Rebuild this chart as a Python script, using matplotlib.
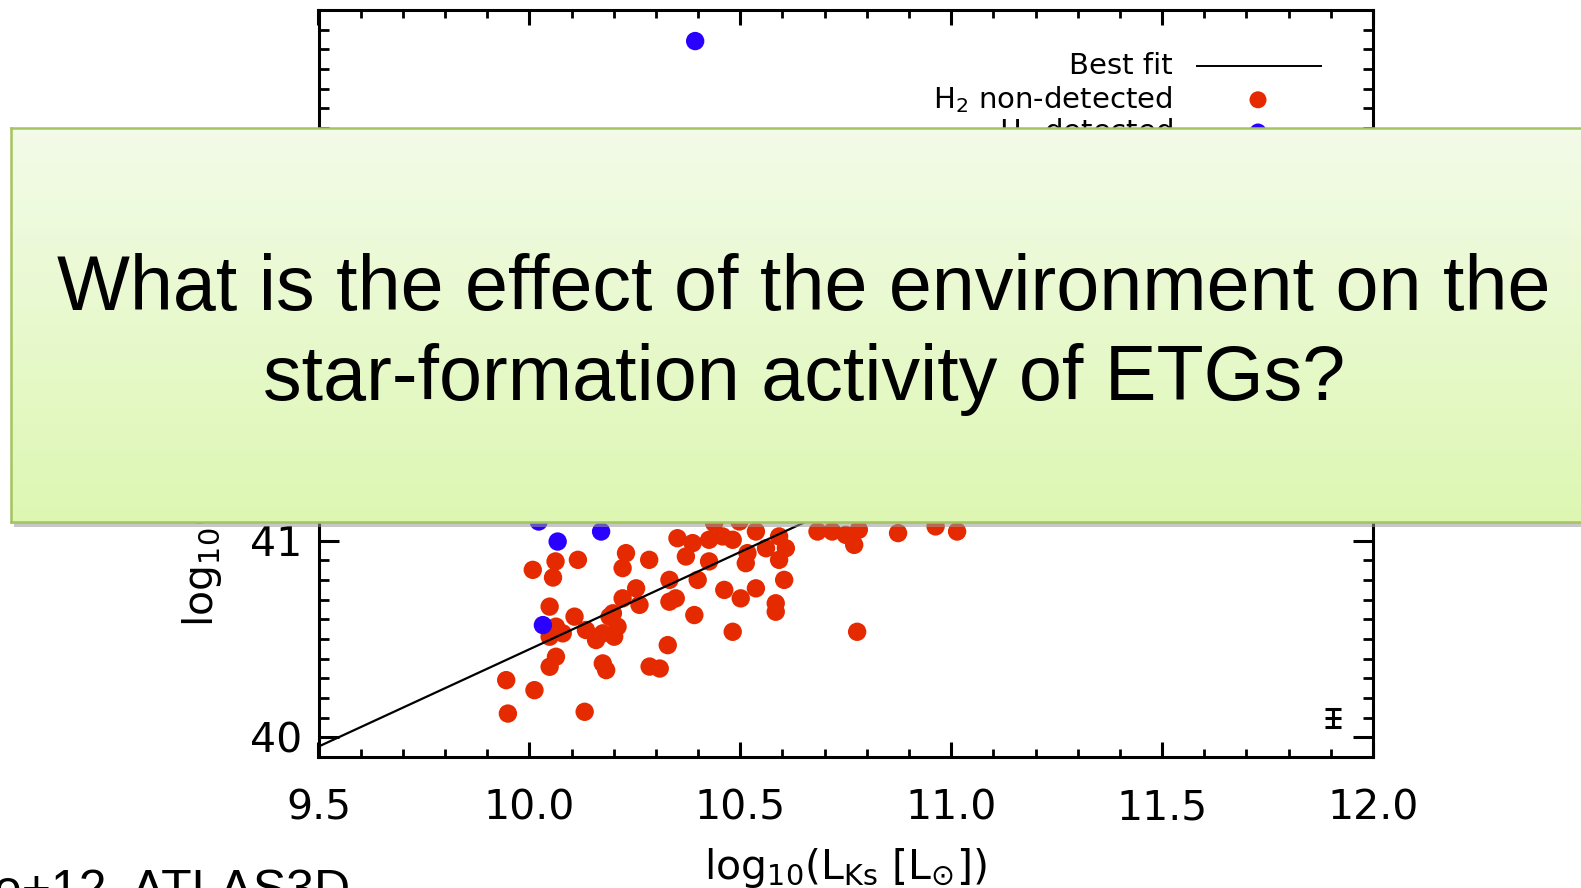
import numpy as np
import matplotlib
matplotlib.use("Agg")
import matplotlib.pyplot as plt
from matplotlib.patches import Rectangle
from matplotlib.ticker import MultipleLocator

# ---------------- data ----------------
red_x = [9.949, 9.945, 10.012, 10.131, 10.008, 10.062, 10.056, 10.115, 10.229, 10.221,
         10.284, 10.048, 10.107, 10.221, 10.253, 10.261, 10.190, 10.209, 10.201, 10.063,
         10.079, 10.048, 10.063, 10.048, 10.134, 10.158, 10.174, 10.174, 10.182, 10.198,
         10.332, 10.399, 10.462, 10.501, 10.537, 10.604, 10.584, 10.584, 10.332, 10.347,
         10.391, 10.482, 10.777, 10.328, 10.285, 10.309, 10.351, 10.387, 10.371, 10.426,
         10.458, 10.482, 10.426, 10.513, 10.537, 10.592, 10.608, 10.561, 10.592, 10.517,
         10.438, 10.498, 10.683, 10.718, 10.750, 10.781, 10.770, 10.874, 10.963, 11.014]
red_y = [40.121, 40.291, 40.240, 40.130, 40.852, 40.895, 40.813, 40.903, 40.937, 40.861,
         40.903, 40.665, 40.614, 40.707, 40.758, 40.674, 40.614, 40.563, 40.512, 40.563,
         40.529, 40.512, 40.410, 40.359, 40.546, 40.495, 40.529, 40.376, 40.342, 40.631,
         40.801, 40.801, 40.750, 40.707, 40.758, 40.801, 40.682, 40.639, 40.690, 40.707,
         40.622, 40.537, 40.537, 40.469, 40.360, 40.350, 41.013, 40.988, 40.920, 41.005,
         41.022, 41.005, 40.895, 40.886, 41.047, 41.022, 40.962, 40.962, 40.903, 40.937,
         41.090, 41.098, 41.047, 41.047, 41.030, 41.056, 40.979, 41.039, 41.073, 41.047]
blue_x = [10.393, 10.022, 10.067, 10.170, 10.032]
blue_y = [43.542, 41.098, 40.996, 41.047, 40.571]

fit_intercept_at_95 = 39.953
fit_slope = 0.99
fit_x = [9.5, 12.0]

err_x = [11.905]
err_y = [40.097]
err_size = [0.046]

x_ticks = [9.5, 10.0, 10.5, 11.0, 11.5, 12.0]
x_ticklabels = ["9.5", "10.0", "10.5", "11.0", "11.5", "12.0"]
y_ticks = [40, 41, 42, 43]
y_ticklabels = ["40", "41", "42", "43"]

legend_labels = ["Best fit", "H$_2$ non-detected", "H$_2$ detected"]
question_lines = ["What is the effect of the environment on the",
                  "star-formation activity of ETGs?"]
credit = "e+12, ATLAS3D"

RED = "#e62a00"
BLUE = "#2a00ff"

# ---------------- figure ----------------
W, H = 1581, 888
fig = plt.figure(figsize=(W / 100, H / 100), dpi=100)
fig.patch.set_facecolor("white")

def fx(px):
    return px / W

def fy(py):
    return 1 - py / H

ax_l, ax_r, ax_t, ax_b = 318.5, 1373, 10, 757
ax = fig.add_axes([fx(ax_l), fy(ax_b), fx(ax_r - ax_l), (ax_b - ax_t) / H])
ax.set_zorder(1)

ax.scatter(red_x, red_y, s=175, color=RED, edgecolors="none", zorder=3)
ax.scatter(blue_x, blue_y, s=175, color=BLUE, edgecolors="none", zorder=3)
fx_arr = np.array(fit_x)
ax.plot(fx_arr, fit_intercept_at_95 + fit_slope * (fx_arr - 9.5), color="black", lw=1.6, zorder=4)
ax.errorbar(err_x, err_y, yerr=err_size, fmt="_", color="black", ms=11, mew=2.2,
            capsize=5.5, capthick=2.2, elinewidth=2.2, zorder=4)

ax.set_xlim(9.5, 12.0)
ax.set_ylim(39.9, 43.7)
ax.set_xticks(x_ticks)
ax.set_xticklabels(x_ticklabels)
ax.set_yticks(y_ticks)
ax.set_yticklabels(y_ticklabels)
ax.xaxis.set_minor_locator(MultipleLocator(0.1))
ax.yaxis.set_minor_locator(MultipleLocator(0.1))
for s in ax.spines.values():
    s.set_linewidth(2.2)
ax.tick_params(axis="x", which="major", direction="in", length=11, width=2.2,
               top=True, bottom=True, labelsize=29.5, pad=23)
ax.tick_params(axis="x", which="minor", direction="in", length=5.5, width=2.0,
               top=True, bottom=True)
ax.tick_params(axis="y", which="major", direction="in", length=14.5, width=2.2,
               left=True, right=True, labelsize=29.5, pad=12)
ax.tick_params(axis="y", which="minor", direction="in", length=7, width=2.0,
               left=True, right=True)

ax.set_xlabel(r"log$_{10}$(L$_{\rm Ks}$ [L$_{\odot}$])", fontsize=29.5, labelpad=12)
ax.set_ylabel(r"log$_{10}$(L$_{22\,\mu m}$ [erg s$^{-1}$])", fontsize=29.5)
ax.yaxis.set_label_coords(-0.086, 0.465)

# legend drawn manually (right-aligned texts)
def axx(px):
    return (px - ax_l) / (ax_r - ax_l)

def axy(py):
    return 1 - (py - ax_t) / (ax_b - ax_t)

rows = [66.5, 99.8, 132]
txt_right = axx(1172.7)
for lab, ry in zip(legend_labels, rows):
    ax.text(txt_right, axy(ry), lab, transform=ax.transAxes, ha="right", va="center",
            fontsize=21, zorder=5)
ax.plot([axx(1197), axx(1321)], [axy(rows[0])] * 2, transform=ax.transAxes,
        color="black", lw=1.4, zorder=5)
ax.scatter([axx(1258)], [axy(rows[1])], transform=ax.transAxes, s=150, color=RED,
           edgecolors="none", zorder=5, clip_on=False)
ax.scatter([axx(1258)], [axy(rows[2])], transform=ax.transAxes, s=150, color=BLUE,
           edgecolors="none", zorder=5, clip_on=False)

# ---------------- overlay box ----------------
bx_l, bx_t, bx_b = 10.5, 128, 522
bx_r = 1600
shadow = Rectangle((fx(bx_l + 4), fy(bx_b + 5)), fx(bx_r - bx_l), (bx_b - bx_t) / H,
                   transform=fig.transFigure, facecolor="#9a9a9a", alpha=0.55,
                   edgecolor="none", zorder=9)
fig.patches.append(shadow)

box_ax = fig.add_axes([fx(bx_l), fy(bx_b), fx(bx_r - bx_l), (bx_b - bx_t) / H])
box_ax.set_zorder(10)
top_c = np.array([243, 251, 233]) / 255
bot_c = np.array([221, 247, 178]) / 255
t = np.linspace(0, 1, 256)[:, None]
grad = (top_c[None, :] * (1 - t) + bot_c[None, :] * t)[:, None, :]
box_ax.imshow(grad, aspect="auto", extent=[0, 1, 0, 1], origin="upper")
box_ax.set_xlim(0, 1)
box_ax.set_ylim(0, 1)
box_ax.set_xticks([])
box_ax.set_yticks([])
for s in box_ax.spines.values():
    s.set_color("#a3c45f")
    s.set_linewidth(1.8)

cx = fx(804)
box_ax.text(cx, fy(310), question_lines[0], transform=fig.transFigure, ha="center",
            va="baseline", fontsize=55.6, family="Liberation Sans", color="black")
box_ax.text(cx, fy(400), question_lines[1], transform=fig.transFigure, ha="center",
            va="baseline", fontsize=55.6, family="Liberation Sans", color="black")

fig.text(fx(-6), fy(906), credit, ha="left", va="baseline", fontsize=36,
         family="Liberation Sans", color="black")

fig.savefig("out.png", dpi=100)
